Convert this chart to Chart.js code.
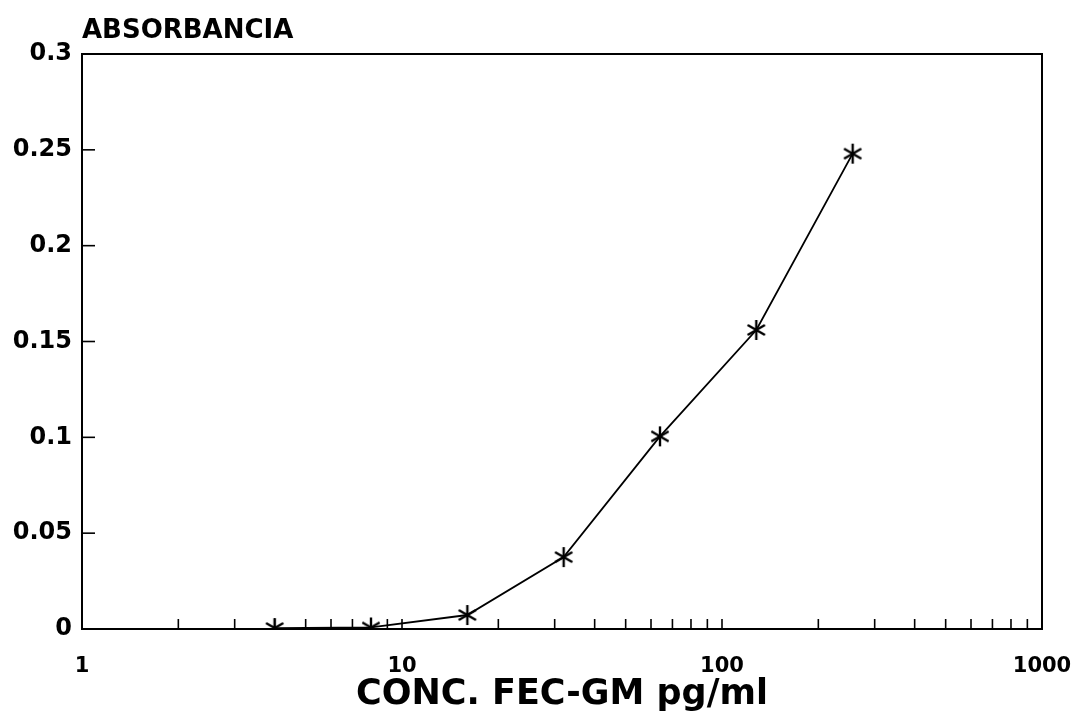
<!DOCTYPE html>
<html>
<head>
<meta charset="utf-8">
<script src="https://cdn.jsdelivr.net/npm/chart.js@4.4.1/dist/chart.umd.min.js"></script>
<style>
  html, body { margin: 0; padding: 0; background: #ffffff; }
  #wrap { width: 1078px; height: 720px; }
</style>
</head>
<body>
<div id="wrap"><canvas id="c" width="1078" height="720"></canvas></div>
<script>
// ---- data ----
const concentrations = [4, 8, 16, 32, 64, 128, 256];
const absorbance = [0.0005, 0.0008, 0.0073, 0.0375, 0.1005, 0.156, 0.248];
const xTickValues = [1,2,3,4,5,6,7,8,9,10,20,30,40,50,60,70,80,90,100,200,300,400,500,600,700,800,900,1000];
const xTickLabels = [1, 10, 100, 1000];
const yTickValues = [0, 0.05, 0.1, 0.15, 0.2, 0.25, 0.3];
const yTitle = 'ABSORBANCIA';
const xTitle = 'CONC. FEC-GM pg/ml';

// asterisk marker
function makeAsterisk(r) {
  const s = r * 2 + 4;
  const cv = document.createElement('canvas');
  cv.width = s; cv.height = s;
  const g = cv.getContext('2d');
  g.strokeStyle = '#000';
  g.lineWidth = 2.4;
  g.lineCap = 'butt';
  const c = s / 2;
  for (let k = 0; k < 3; k++) {
    const a = Math.PI / 2 + k * Math.PI / 3;
    g.beginPath();
    g.moveTo(c + r * Math.cos(a), c - r * Math.sin(a));
    g.lineTo(c - r * Math.cos(a), c + r * Math.sin(a));
    g.stroke();
  }
  return cv;
}
const asterisk = makeAsterisk(10);

const framePlugin = {
  id: 'frame',
  afterDatasetsDraw(chart) {
    const { ctx, chartArea: a, scales } = chart;
    ctx.save();
    ctx.strokeStyle = '#000';
    ctx.lineWidth = 2;
    ctx.strokeRect(a.left, a.top, a.right - a.left, a.bottom - a.top);
    ctx.lineWidth = 1.6;
    // inward ticks on bottom axis
    xTickValues.forEach(v => {
      if (v === 1 || v === 1000) return;
      const px = scales.x.getPixelForValue(v);
      ctx.beginPath();
      ctx.moveTo(px, a.bottom);
      ctx.lineTo(px, a.bottom - 10);
      ctx.stroke();
    });
    // inward ticks on left axis
    yTickValues.forEach(v => {
      if (v === 0 || v === 0.3) return;
      const py = scales.y.getPixelForValue(v);
      ctx.beginPath();
      ctx.moveTo(a.left, py);
      ctx.lineTo(a.left + 13, py);
      ctx.stroke();
    });
    // y-axis title (horizontal, above the plot)
    ctx.fillStyle = '#000';
    ctx.font = 'bold 26px "DejaVu Sans"';
    ctx.textAlign = 'left';
    ctx.textBaseline = 'alphabetic';
    ctx.fillText(yTitle, a.left, 38);
    ctx.restore();
  }
};

new Chart(document.getElementById('c'), {
  type: 'scatter',
  data: {
    datasets: [{
      data: concentrations.map((x, i) => ({ x: x, y: absorbance[i] })),
      showLine: true,
      borderColor: '#000',
      borderWidth: 1.8,
      tension: 0,
      pointStyle: asterisk,
      pointRadius: 10,
      pointHoverRadius: 10,
      backgroundColor: '#000'
    }]
  },
  options: {
    responsive: false,
    animation: false,
    events: [],
    layout: { padding: { top: 54, right: 36, left: 0, bottom: 0 } },
    plugins: { legend: { display: false }, tooltip: { enabled: false } },
    scales: {
      x: {
        type: 'logarithmic',
        min: 1,
        max: 1000,
        grid: { display: false, drawTicks: false },
        border: { display: false },
        afterBuildTicks(scale) {
          scale.ticks = xTickValues.map(v => ({ value: v }));
        },
        afterFit(scale) {
          scale.height = 91;
          scale.paddingLeft = 0;
          scale.paddingRight = 0;
        },
        ticks: {
          autoSkip: false,
          maxRotation: 0,
          padding: 25,
          color: '#000',
          font: { family: '"DejaVu Sans"', size: 21, weight: 'bold' },
          callback(v) { return xTickLabels.includes(v) ? String(v) : ''; }
        },
        title: {
          display: true,
          text: xTitle,
          color: '#000',
          font: { family: '"DejaVu Sans"', size: 35, weight: 'bold', lineHeight: 1.2 },
          padding: { top: 0, bottom: 4 }
        }
      },
      y: {
        min: 0,
        max: 0.3,
        grid: { display: false, drawTicks: false },
        border: { display: false },
        afterBuildTicks(scale) {
          scale.ticks = yTickValues.map(v => ({ value: v }));
        },
        afterFit(scale) {
          scale.width = 82;
          scale.paddingTop = 0;
          scale.paddingBottom = 0;
        },
        ticks: {
          padding: 10,
          color: '#000',
          font: { family: '"DejaVu Sans"', size: 24, weight: 'bold' },
          callback(v) { return String(parseFloat(v.toFixed(2))); }
        }
      }
    }
  },
  plugins: [framePlugin]
});
</script>
</body>
</html>
